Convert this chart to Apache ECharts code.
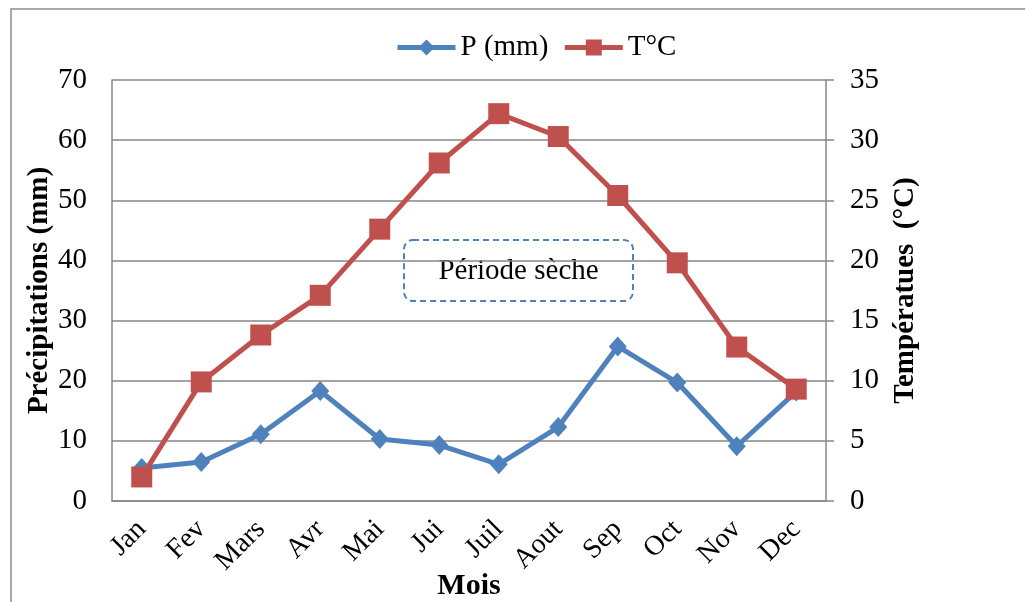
<!DOCTYPE html>
<html>
<head>
<meta charset="utf-8">
<title>Précipitations et températures mensuelles</title>
<script src="https://cdn.jsdelivr.net/npm/echarts@6/dist/echarts.min.js"></script>
<style>
  html, body { margin: 0; padding: 0; background: #ffffff; }
  #chart { width: 1025px; height: 602px; }
</style>
</head>
<body>
<div id="chart"></div>
<script>
// Monthly categories
const months = ['Jan', 'Fev', 'Mars', 'Avr', 'Mai', 'Jui', 'Juil', 'Aout', 'Sep', 'Oct', 'Nov', 'Dec'];
// Precipitation (mm), left axis
const precipitation = [5.5, 6.5, 11.1, 18.3, 10.3, 9.3, 6.1, 12.3, 25.7, 19.7, 9.1, 18.2];
// Mean temperature (°C), right axis
const temperature = [2.0, 9.9, 13.8, 17.1, 22.6, 28.1, 32.2, 30.3, 25.4, 19.8, 12.8, 9.3];
// Axis tick values
const precipTicks = { min: 0, max: 70, interval: 10 };
const tempTicks = { min: 0, max: 35, interval: 5 };

const FONT = '"Liberation Serif", "Times New Roman", serif';
const BLUE = '#4F81BD';
const RED = '#C0504D';
const GRID = '#878787';

const chart = echarts.init(document.getElementById('chart'), null, { renderer: 'canvas' });

chart.setOption({
  animation: false,
  backgroundColor: '#ffffff',
  textStyle: { fontFamily: FONT, color: '#000' },
  legend: {
    top: 28,
    left: 390,
    itemWidth: 58,
    itemHeight: 20,
    itemGap: 14,
    lineStyle: { width: 5 },
    textStyle: { fontFamily: FONT, fontSize: 29, color: '#000' },
    data: ['P (mm)', 'T°C']
  },
  grid: {
    left: 112, right: 199, top: 80, bottom: 101,
    containLabel: false,
    outerBoundsMode: 'none'
  },
  xAxis: {
    type: 'category',
    data: months,
    boundaryGap: true,
    name: 'Mois',
    nameLocation: 'middle',
    nameGap: 70,
    nameMoveOverlap: false,
    nameTextStyle: { fontFamily: FONT, fontSize: 30, fontWeight: 'bold', color: '#000', verticalAlign: 'top' },
    axisLine: { lineStyle: { color: GRID, width: 1.5 } },
    axisTick: { show: false },
    axisLabel: { rotate: 45, margin: 24, fontFamily: FONT, fontSize: 28, color: '#000' }
  },
  yAxis: [
    {
      type: 'value',
      position: 'left',
      min: precipTicks.min, max: precipTicks.max, interval: precipTicks.interval,
      name: 'Précipitations (mm)',
      nameLocation: 'middle',
      nameRotate: 90,
      nameGap: 58,
      nameMoveOverlap: false,
      nameTextStyle: { fontFamily: FONT, fontSize: 29, fontWeight: 'bold', color: '#000' },
      axisLine: { show: true, lineStyle: { color: GRID, width: 1.5 } },
      axisTick: { show: false },
      axisLabel: { margin: 25, fontFamily: FONT, fontSize: 29, color: '#000' },
      splitLine: { show: true, lineStyle: { color: GRID, width: 1.5 } }
    },
    {
      type: 'value',
      position: 'right',
      min: tempTicks.min, max: tempTicks.max, interval: tempTicks.interval,
      name: 'Températues  (°C)',
      nameLocation: 'middle',
      nameRotate: 90,
      nameGap: 65,
      nameMoveOverlap: false,
      nameTextStyle: { fontFamily: FONT, fontSize: 29, fontWeight: 'bold', color: '#000' },
      axisLine: { show: true, lineStyle: { color: GRID, width: 1.5 } },
      axisTick: { show: true, inside: false, length: 8, lineStyle: { color: GRID, width: 1.5 } },
      axisLabel: { margin: 24, fontFamily: FONT, fontSize: 29, color: '#000' },
      splitLine: { show: false }
    }
  ],
  series: [
    {
      name: 'P (mm)',
      type: 'line',
      yAxisIndex: 0,
      data: precipitation,
      symbol: 'diamond',
      symbolSize: [18, 20],
      lineStyle: { color: BLUE, width: 5 },
      itemStyle: { color: BLUE },
      z: 3
    },
    {
      name: 'T°C',
      type: 'line',
      yAxisIndex: 1,
      data: temperature,
      symbol: 'rect',
      symbolSize: 21,
      lineStyle: { color: RED, width: 5 },
      itemStyle: { color: RED },
      z: 4
    }
  ],
  graphic: [
    {
      // outer chart frame
      type: 'rect',
      shape: { x: 11, y: 9, width: 1030, height: 610 },
      style: { fill: null, stroke: '#8c8c8c', lineWidth: 1.5 },
      silent: true,
      z: 0
    },
    {
      // dry season callout
      type: 'group',
      left: 403,
      top: 239,
      z: 10,
      children: [
        {
          type: 'rect',
          shape: { x: 0, y: 0, width: 229, height: 61, r: 9 },
          style: { fill: '#ffffff', stroke: BLUE, lineWidth: 2, lineDash: [6, 4] }
        },
        {
          type: 'text',
          x: 114.5,
          y: 31,
          style: {
            text: 'Période sèche',
            font: '29px "Liberation Serif", "Times New Roman", serif',
            fill: '#000',
            align: 'center',
            verticalAlign: 'middle'
          }
        }
      ]
    }
  ]
});
</script>
</body>
</html>
